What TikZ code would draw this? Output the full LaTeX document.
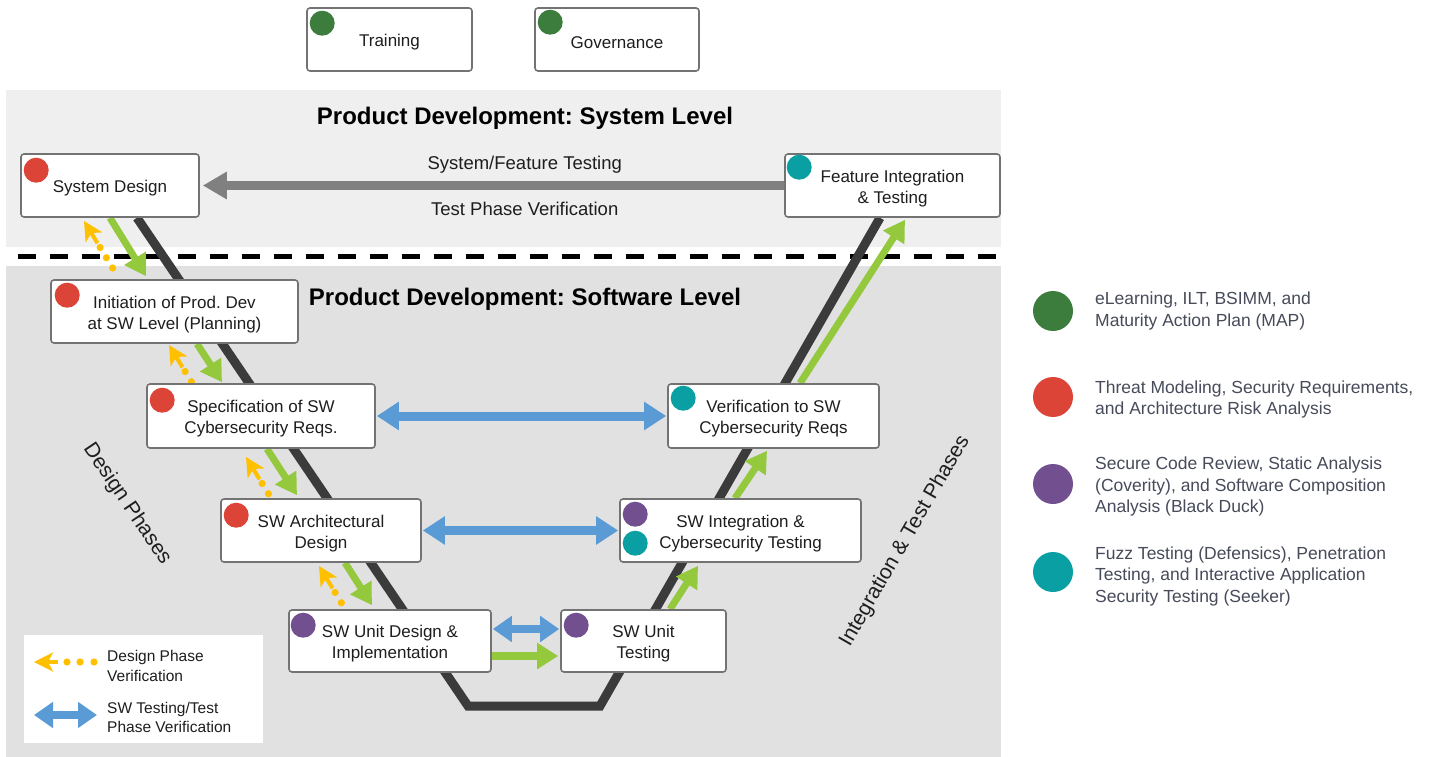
\documentclass[tikz,border=0pt]{standalone}
\usepackage{fontspec}
\setmainfont{Liberation Sans}
\usetikzlibrary{arrows.meta,calc}
\definecolor{sysbg}{HTML}{EFEFEF}
\definecolor{swbg}{HTML}{E1E1E1}
\definecolor{vline}{HTML}{3B3B3B}
\definecolor{grn}{HTML}{94C83D}
\definecolor{blu}{HTML}{5B9BD5}
\definecolor{yel}{HTML}{FFC000}
\definecolor{gar}{HTML}{808080}
\definecolor{dgreen}{HTML}{3C7D3E}
\definecolor{dred}{HTML}{DB4437}
\definecolor{dpurple}{HTML}{724F8F}
\definecolor{dteal}{HTML}{0A9FA2}
\definecolor{legtxt}{HTML}{474B5A}
\definecolor{boxline}{HTML}{737373}
\definecolor{txt}{HTML}{1E1E1E}
\pgfdeclarelayer{back}\pgfdeclarelayer{mid}\pgfsetlayers{back,mid,main}
\frenchspacing
\begin{document}
\begin{tikzpicture}[x=1pt,y=-1pt,
 box/.style={draw=boxline, line width=1.6pt, fill=white, rounded corners=3pt, inner sep=0pt},
 btext/.style={align=center, inner sep=0pt, text=txt, font=\fontsize{17}{21}\selectfont, yshift=-3pt},
 sdot/.style={circle, inner sep=0pt, minimum size=25pt},
 bigdot/.style={circle, inner sep=0pt, minimum size=40pt},
 vstyle/.style={draw=vline, line width=9pt, line join=miter},
 garrow/.style={draw=grn, line width=7pt, arrows={-Triangle[length=21pt,width=24pt]}},
 barrow/.style={draw=blu, line width=9pt, arrows={Triangle[length=22pt,width=27pt]-Triangle[length=22pt,width=27pt]}},
 sbarrow/.style={draw=blu, line width=8pt, arrows={Triangle[length=19pt,width=25pt]-Triangle[length=19pt,width=25pt]}},
 yhead/.style={draw=yel, line width=4pt, arrows={-Stealth[length=19pt,width=19pt,inset=5pt]}},
 legtext/.style={align=left, anchor=west, inner sep=0pt, text=legtxt, font=\fontsize{17.5}{21.5}\selectfont},
 smalltext/.style={align=left, anchor=west, inner sep=0pt, text=txt, font=\fontsize{15.5}{19.5}\selectfont},
 midlabel/.style={text=txt, font=\fontsize{18.5}{22}\selectfont},
 title/.style={text=black, font=\bfseries\fontsize{24}{28}\selectfont},
 phase/.style={text=txt, font=\fontsize{21}{25}\selectfont}
]
\useasboundingbox (0,0) rectangle (1432,757);

% panels
\begin{pgfonlayer}{back}
\fill[white] (0,0) rectangle (1432,757);
\fill[sysbg] (6,90) rectangle (1001,247);
\fill[swbg] (6,266) rectangle (1001,757);
\draw[black, line width=5pt, dash pattern=on 18pt off 14pt] (18,256) -- (1001,256);
\end{pgfonlayer}

% top boxes
\node[box, minimum width=165pt, minimum height=63pt, label={[btext]center:Training}] (train) at (389.5,39.5) {};
\node[box, minimum width=164pt, minimum height=63pt, label={[btext]center:Governance}] (gov) at (617,39.5) {};

% titles
\node[title] (systitle) at (525,118) {Product Development: System Level};
\node[title] (swtitle) at (525,299) {Product Development: Software Level};

% V boxes
\node[box, minimum width=178pt, minimum height=63pt, label={[btext]center:System Design}] (sd) at (110,185.5) {};
\node[box, minimum width=215pt, minimum height=63pt, label={[btext]center:{Feature Integration\\\& Testing}}] (fi) at (892.5,185.5) {};
\node[box, minimum width=247pt, minimum height=63pt, label={[btext]center:{Initiation of Prod. Dev\\at SW Level (Planning)}}] (init) at (174.5,311.5) {};
\node[box, minimum width=228pt, minimum height=64pt, label={[btext]center:{Specification of SW\\Cybersecurity Reqs.}}] (spec) at (261,416) {};
\node[box, minimum width=211pt, minimum height=64pt, label={[btext]center:{Verification to SW\\Cybersecurity Reqs}}] (ver) at (773.5,416) {};
\node[box, minimum width=200pt, minimum height=63pt, label={[btext]center:{SW Architectural\\Design}}] (arch) at (321,530.5) {};
\node[box, minimum width=241pt, minimum height=63pt, label={[btext]center:{SW Integration \&\\Cybersecurity Testing}}] (integ) at (740.5,530.5) {};
\node[box, minimum width=202pt, minimum height=62pt, label={[btext]center:{SW Unit Design \&\\Implementation}}] (ud) at (390,641) {};
\node[box, minimum width=165pt, minimum height=62pt, label={[btext]center:{SW Unit\\Testing}}] (ut) at (643.5,641) {};

% dots in boxes
\node[sdot, fill=dgreen] (dtrain) at ([shift={(16,16)}]train.north west) {};
\node[sdot, fill=dgreen] (dgov) at ([shift={(16,15)}]gov.north west) {};
\node[sdot, fill=dred] (dsd) at ([shift={(16,17)}]sd.north west) {};
\node[sdot, fill=dteal] (dfi) at ([shift={(15,14)}]fi.north west) {};
\node[sdot, fill=dred] (dinit) at ([shift={(17,16)}]init.north west) {};
\node[sdot, fill=dred] (dspec) at ([shift={(16,17)}]spec.north west) {};
\node[sdot, fill=dteal] (dver) at ([shift={(16,15)}]ver.north west) {};
\node[sdot, fill=dred] (darch) at ([shift={(16,17)}]arch.north west) {};
\node[sdot, fill=dpurple] (dint1) at ([shift={(16,16)}]integ.north west) {};
\node[sdot, fill=dteal] (dint2) at ([shift={(16,45)}]integ.north west) {};
\node[sdot, fill=dpurple] (dud) at ([shift={(15,16)}]ud.north west) {};
\node[sdot, fill=dpurple] (dut) at ([shift={(16,16)}]ut.north west) {};

% phase labels
\node[phase, rotate=-56] (dphase) at (127,504) {Design Phases};
\node[phase, rotate=60] (tphase) at (905,541) {Integration \& Test Phases};

% V connectors
\coordinate (vl) at (468,706);
\coordinate (vr) at (600,706);
\coordinate (t1) at (84,221);
\coordinate (t2) at (169,345);
\coordinate (t3) at (246,457);
\coordinate (t4) at (319,566);
\begin{pgfonlayer}{mid}
\draw[vstyle] ([xshift=27pt]sd.south) -- (vl) -- (vr) -- ([xshift=-12.5pt]fi.south);
\draw[draw=gar, line width=9pt, arrows={-Triangle[length=24pt,width=26pt]}, shorten >=3pt] (fi.west) -- (sd.east)
  node[midlabel, pos=0.444, above=4pt] (lab1) {System/Feature Testing}
  node[midlabel, pos=0.444, below=9pt] (lab2) {Test Phase Verification};
% green down arrows
\draw[garrow] (sd.south) -- ([shift={(-28.5,-3)}]init.north);
\draw[garrow] ([shift={(22.5,0)}]init.south) -- ([shift={(-39,-1)}]spec.north);
\draw[garrow] ([shift={(6,0)}]spec.south) -- ([shift={(-24,-3)}]arch.north);
\draw[garrow] ([shift={(24,0)}]arch.south) -- ([shift={(-18,-4)}]ud.north);
% green up arrows
\draw[garrow] ([shift={(26.5,0)}]ut.north) -- ([shift={(-42.5,3)}]integ.south);
\draw[garrow] ([shift={(-5.5,0)}]integ.north) -- ([shift={(-6.5,2)}]ver.south);
\draw[garrow] ([shift={(26.5,0)}]ver.north) -- ([shift={(12.5,2)}]fi.south);
\draw[draw=grn, line width=8pt, arrows={-Triangle[length=21pt,width=25pt]}] ([shift={(0,15)}]ud.east) -- ([shift={(-2,15)}]ut.west);
% blue arrows
\draw[barrow] ([xshift=1pt]spec.east) -- ([xshift=-1pt]ver.west);
\draw[barrow] ([xshift=1pt]arch.east) -- ([xshift=-1pt]integ.west);
\draw[sbarrow] ([shift={(1,-12)}]ud.east) -- ([shift={(-1,-12)}]ut.west);
% yellow verification arrows
\foreach \t in {t1,t2,t3,t4}{
  \draw[yhead] ($(\t)+(13.5,22.2)$) -- (\t);
  \foreach \k in {31,43,55} \fill[yel] ($(\t)+\k*(0.52,0.854)$) circle[radius=3.6pt];
}
% bottom-left legend
\node[fill=white, minimum width=239pt, minimum height=108pt, inner sep=0pt] (leg) at (143.5,689) {};
\end{pgfonlayer}

\coordinate (ly) at (34,662);
\draw[yhead] (58,662) -- (ly);
\foreach \xx in {67,80,94} \fill[yel] (\xx,662) circle[radius=3.6pt];
\node[smalltext] (lt1) at (107,666) {Design Phase\\Verification};
\draw[sbarrow, line width=8pt] (34,715) -- (97,715);
\node[smalltext] (lt2) at (107,717.5) {SW Testing/Test\\Phase Verification};

% right legend
\node[bigdot, fill=dgreen] (k1) at (1053,311) {};
\node[bigdot, fill=dred] (k2) at (1053,397) {};
\node[bigdot, fill=dpurple] (k3) at (1053,484) {};
\node[bigdot, fill=dteal] (k4) at (1053,572) {};
\node[legtext] (kt1) at (1095,311) {eLearning, ILT, BSIMM, and\\Maturity Action Plan (MAP)};
\node[legtext] (kt2) at (1095,399.5) {Threat Modeling, Security Requirements,\\and Architecture Risk Analysis};
\node[legtext] (kt3) at (1095,486.5) {Secure Code Review, Static Analysis\\(Coverity), and Software Composition\\Analysis (Black Duck)};
\node[legtext] (kt4) at (1095,576) {Fuzz Testing (Defensics), Penetration\\Testing, and Interactive Application\\Security Testing (Seeker)};
\end{tikzpicture}
\end{document}
